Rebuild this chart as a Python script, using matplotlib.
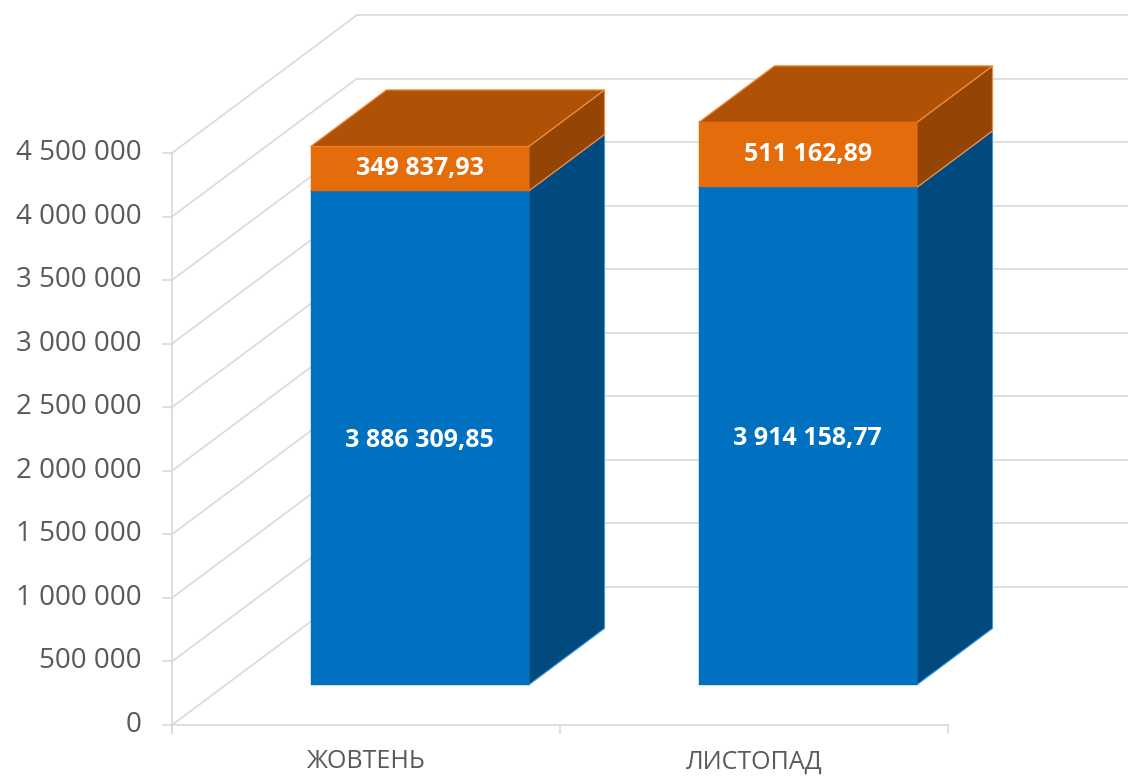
import matplotlib
matplotlib.use('Agg')
import matplotlib.pyplot as plt
from matplotlib.patches import Polygon

# data
categories = ['ЖОВТЕНЬ', 'ЛИСТОПАД']
blue_vals = [3886309.85, 3914158.77]
orange_vals = [349837.93, 511162.89]
y_ticks = [0, 500000, 1000000, 1500000, 2000000, 2500000,
           3000000, 3500000, 4000000, 4500000]

# oblique "3d" look: depth offset in data units
DX = 0.4768
DY = 1085664.0
T0, T1 = 0.29, 0.70
BAR_W = 0.562

GRID = '#D9D9D9'
TXT = '#595959'
BLUE_FRONT, BLUE_SIDE, BLUE_EDGE = '#0070C0', '#004A7F', '#3C9BE0'
OR_FRONT, OR_SIDE, OR_TOP, OR_EDGE = '#E46C0A', '#944506', '#B05205', '#F08A3C'

plt.rcParams['font.family'] = ['Open Sans', 'DejaVu Sans']


def proj(x, y, t):
    return (x + t * DX, y + t * DY)


def box(ax, x0, x1, y0, y1, front, side, top, edge, lw):
    pts_side = [proj(x1, y0, T0), proj(x1, y0, T1), proj(x1, y1, T1), proj(x1, y1, T0)]
    pts_top = [proj(x0, y1, T0), proj(x1, y1, T0), proj(x1, y1, T1), proj(x0, y1, T1)]
    pts_front = [proj(x0, y0, T0), proj(x1, y0, T0), proj(x1, y1, T0), proj(x0, y1, T0)]
    ax.add_patch(Polygon(pts_side, closed=True, facecolor=side, edgecolor=edge, lw=lw, zorder=3))
    ax.add_patch(Polygon(pts_top, closed=True, facecolor=top, edgecolor=edge, lw=lw, zorder=3))
    ax.add_patch(Polygon(pts_front, closed=True, facecolor=front, edgecolor=front, lw=0.3, zorder=4))


def fmt_tick(v):
    return '{:,}'.format(v).replace(',', ' ')


def fmt_val(v):
    return '{:,.2f}'.format(v).replace(',', ' ').replace('.', ',')


fig = plt.figure(figsize=(11.28, 7.76), dpi=100)
ax = fig.add_axes([0, 0, 1, 1])
px_per_val = 572 / 4.5e6
px_per_cat = 388
ax.set_xlim(-172 / px_per_cat, (1128 - 172) / px_per_cat)
ax.set_ylim(-(776 - 725) / px_per_val, 725 / px_per_val)
ax.axis('off')

n = len(categories)

# back wall + left wall gridlines
for v in y_ticks:
    bx, by = proj(0, v, 1)
    ex, ey = proj(n, v, 1)
    ax.plot([bx, ex], [by, ey], color=GRID, lw=1.2, zorder=1, solid_capstyle='butt')
    ax.plot([0, bx], [v, by], color=GRID, lw=1.2, zorder=1)
    ax.plot([-9 / px_per_cat, 0], [v, v], color=GRID, lw=1.2, zorder=1)
    ax.text(-30 / px_per_cat, v, fmt_tick(v), ha='right', va='center',
            fontsize=20, color=TXT)

# front axes
ax.plot([0, 0], [-8 / px_per_val, y_ticks[-1]], color=GRID, lw=1.2, zorder=2)
ax.plot([0, n], [0, 0], color=GRID, lw=1.2, zorder=2)
for i in range(n + 1):
    ax.plot([i, i], [0, -8 / px_per_val], color=GRID, lw=1.2, zorder=2)

for i, cat in enumerate(categories):
    ax.text(i + 0.5, -37 / px_per_val, cat, ha='center', va='center',
            fontsize=18, color=TXT)

# bars
for i in range(n):
    x0 = i + 0.5 - BAR_W / 2
    x1 = i + 0.5 + BAR_W / 2
    b = blue_vals[i]
    o = orange_vals[i]
    box(ax, x0, x1, 0, b, BLUE_FRONT, BLUE_SIDE, BLUE_SIDE, BLUE_EDGE, 0.8)
    box(ax, x0, x1, b, b + o, OR_FRONT, OR_SIDE, OR_TOP, OR_EDGE, 0.9)
    cx, cy = proj(i + 0.5, b / 2, T0)
    ax.text(cx, cy - 20000, fmt_val(b), ha='center', va='center', fontsize=18,
            fontweight='bold', color='white', zorder=5)
    cx, cy = proj(i + 0.5, b + o / 2, T0)
    ax.text(cx, cy, fmt_val(o), ha='center', va='center', fontsize=18,
            fontweight='bold', color='white', zorder=5)

fig.savefig('out.png', dpi=100)
